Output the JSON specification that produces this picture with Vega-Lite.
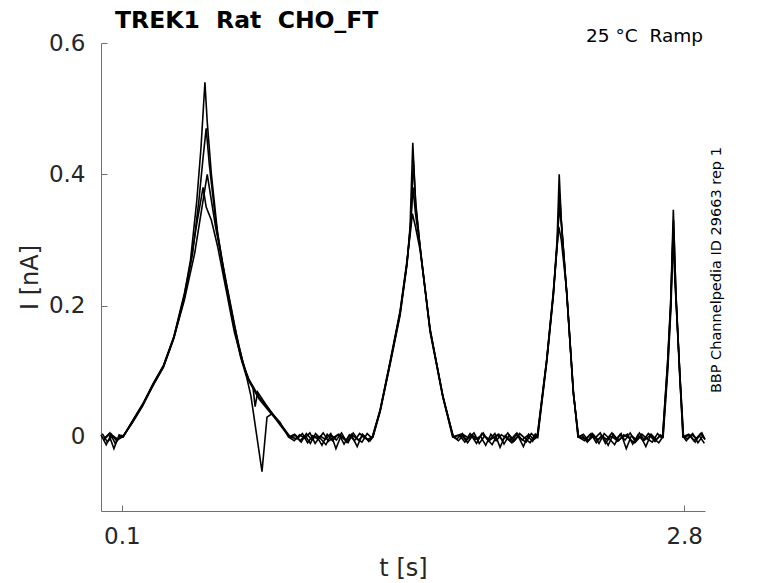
{
  "$schema": "https://vega.github.io/schema/vega-lite/v6.json",
  "width": 604,
  "height": 468,
  "autosize": "none",
  "padding": {"left": 101, "top": 43, "right": 73, "bottom": 72},
  "background": "white",
  "title": {
    "text": "TREK1 \u00a0Rat \u00a0CHO_FT",
    "anchor": "start",
    "frame": "group",
    "dx": 14,
    "dy": 22,
    "offset": 17,
    "font": "DejaVu Sans",
    "fontSize": 23.5,
    "fontWeight": "bold",
    "color": "black"
  },
  "config": {
    "view": {"stroke": null},
    "axis": {
      "grid": false,
      "domainColor": "#707070",
      "tickColor": "#707070",
      "tickSize": -6,
      "labelFont": "DejaVu Sans",
      "labelFontSize": 23,
      "labelColor": "#262626",
      "titleFont": "DejaVu Sans",
      "titleFontSize": 24,
      "titleFontWeight": "normal",
      "titleColor": "#262626"
    }
  },
  "layer": [
    {
      "data": {
        "values": [
          {"s": "A", "t": 0, "i": 0.003}, {"s": "A", "t": 0.025, "i": -0.012}, {"s": "A", "t": 0.05, "i": 0.004}, {"s": "A", "t": 0.075, "i": -0.006}, {"s": "A", "t": 0.1, "i": 0.002},
          {"s": "A", "t": 0.105, "i": 0.0}, {"s": "A", "t": 0.15, "i": 0.024}, {"s": "A", "t": 0.2, "i": 0.05}, {"s": "A", "t": 0.25, "i": 0.08}, {"s": "A", "t": 0.3, "i": 0.108},
          {"s": "A", "t": 0.35, "i": 0.152}, {"s": "A", "t": 0.4, "i": 0.215}, {"s": "A", "t": 0.43, "i": 0.27}, {"s": "A", "t": 0.46, "i": 0.36}, {"s": "A", "t": 0.48, "i": 0.44},
          {"s": "A", "t": 0.499, "i": 0.54}, {"s": "A", "t": 0.51, "i": 0.48}, {"s": "A", "t": 0.53, "i": 0.4}, {"s": "A", "t": 0.56, "i": 0.31}, {"s": "A", "t": 0.6, "i": 0.235},
          {"s": "A", "t": 0.64, "i": 0.17}, {"s": "A", "t": 0.68, "i": 0.115}, {"s": "A", "t": 0.71, "i": 0.085}, {"s": "A", "t": 0.76, "i": 0.057}, {"s": "A", "t": 0.81, "i": 0.038},
          {"s": "A", "t": 0.86, "i": 0.02}, {"s": "A", "t": 0.905, "i": 0.0},
          {"s": "A", "t": 0.93, "i": 0.004}, {"s": "A", "t": 0.955, "i": -0.006}, {"s": "A", "t": 0.98, "i": 0.002}, {"s": "A", "t": 1.005, "i": -0.01}, {"s": "A", "t": 1.03, "i": 0.005},
          {"s": "A", "t": 1.055, "i": -0.003}, {"s": "A", "t": 1.08, "i": -0.012}, {"s": "A", "t": 1.105, "i": 0.003}, {"s": "A", "t": 1.13, "i": -0.005}, {"s": "A", "t": 1.155, "i": 0.006},
          {"s": "A", "t": 1.18, "i": -0.008}, {"s": "A", "t": 1.205, "i": 0.001}, {"s": "A", "t": 1.23, "i": -0.015}, {"s": "A", "t": 1.255, "i": 0.004}, {"s": "A", "t": 1.28, "i": -0.004},
          {"s": "A", "t": 1.304, "i": 0.0}, {"s": "A", "t": 1.34, "i": 0.04}, {"s": "A", "t": 1.388, "i": 0.113}, {"s": "A", "t": 1.436, "i": 0.189}, {"s": "A", "t": 1.469, "i": 0.265},
          {"s": "A", "t": 1.484, "i": 0.32}, {"s": "A", "t": 1.497, "i": 0.448}, {"s": "A", "t": 1.51, "i": 0.36}, {"s": "A", "t": 1.532, "i": 0.289}, {"s": "A", "t": 1.58, "i": 0.163},
          {"s": "A", "t": 1.642, "i": 0.061}, {"s": "A", "t": 1.69, "i": 0.0},
          {"s": "A", "t": 1.71, "i": -0.003}, {"s": "A", "t": 1.735, "i": 0.005}, {"s": "A", "t": 1.76, "i": -0.009}, {"s": "A", "t": 1.785, "i": 0.002}, {"s": "A", "t": 1.81, "i": -0.004},
          {"s": "A", "t": 1.835, "i": 0.006}, {"s": "A", "t": 1.86, "i": -0.007}, {"s": "A", "t": 1.885, "i": -0.001}, {"s": "A", "t": 1.91, "i": 0.004}, {"s": "A", "t": 1.935, "i": -0.011},
          {"s": "A", "t": 1.96, "i": 0.003}, {"s": "A", "t": 1.985, "i": -0.006}, {"s": "A", "t": 2.01, "i": 0.005}, {"s": "A", "t": 2.035, "i": -0.002}, {"s": "A", "t": 2.06, "i": -0.009},
          {"s": "A", "t": 2.085, "i": 0.004},
          {"s": "A", "t": 2.095, "i": 0.0}, {"s": "A", "t": 2.14, "i": 0.117}, {"s": "A", "t": 2.172, "i": 0.219}, {"s": "A", "t": 2.19, "i": 0.3}, {"s": "A", "t": 2.2, "i": 0.4},
          {"s": "A", "t": 2.21, "i": 0.33}, {"s": "A", "t": 2.236, "i": 0.219}, {"s": "A", "t": 2.268, "i": 0.067}, {"s": "A", "t": 2.292, "i": 0.0},
          {"s": "A", "t": 2.31, "i": 0.002}, {"s": "A", "t": 2.335, "i": -0.008}, {"s": "A", "t": 2.36, "i": 0.005}, {"s": "A", "t": 2.385, "i": -0.004}, {"s": "A", "t": 2.41, "i": 0.001},
          {"s": "A", "t": 2.435, "i": -0.013}, {"s": "A", "t": 2.46, "i": 0.004}, {"s": "A", "t": 2.485, "i": -0.006}, {"s": "A", "t": 2.51, "i": 0.003}, {"s": "A", "t": 2.535, "i": -0.002},
          {"s": "A", "t": 2.56, "i": -0.009}, {"s": "A", "t": 2.585, "i": 0.006}, {"s": "A", "t": 2.61, "i": -0.005}, {"s": "A", "t": 2.635, "i": 0.002}, {"s": "A", "t": 2.66, "i": -0.007},
          {"s": "A", "t": 2.685, "i": 0.003},
          {"s": "A", "t": 2.697, "i": 0.0}, {"s": "A", "t": 2.72, "i": 0.11}, {"s": "A", "t": 2.735, "i": 0.2}, {"s": "A", "t": 2.748, "i": 0.346}, {"s": "A", "t": 2.76, "i": 0.22},
          {"s": "A", "t": 2.78, "i": 0.09}, {"s": "A", "t": 2.796, "i": 0.0},
          {"s": "A", "t": 2.81, "i": -0.006}, {"s": "A", "t": 2.835, "i": 0.003}, {"s": "A", "t": 2.86, "i": -0.002}, {"s": "A", "t": 2.885, "i": 0.006}, {"s": "A", "t": 2.9, "i": -0.004},

          {"s": "B", "t": 0.012, "i": -0.005}, {"s": "B", "t": 0.037, "i": 0.004}, {"s": "B", "t": 0.062, "i": -0.018}, {"s": "B", "t": 0.087, "i": 0.003},
          {"s": "B", "t": 0.107, "i": 0.0}, {"s": "B", "t": 0.15, "i": 0.022}, {"s": "B", "t": 0.2, "i": 0.048}, {"s": "B", "t": 0.25, "i": 0.078}, {"s": "B", "t": 0.3, "i": 0.106},
          {"s": "B", "t": 0.35, "i": 0.15}, {"s": "B", "t": 0.4, "i": 0.212}, {"s": "B", "t": 0.44, "i": 0.28}, {"s": "B", "t": 0.47, "i": 0.36}, {"s": "B", "t": 0.49, "i": 0.425},
          {"s": "B", "t": 0.505, "i": 0.47}, {"s": "B", "t": 0.52, "i": 0.415}, {"s": "B", "t": 0.55, "i": 0.33}, {"s": "B", "t": 0.59, "i": 0.25}, {"s": "B", "t": 0.63, "i": 0.18},
          {"s": "B", "t": 0.67, "i": 0.122}, {"s": "B", "t": 0.7, "i": 0.09}, {"s": "B", "t": 0.72, "i": 0.062}, {"s": "B", "t": 0.773, "i": -0.053}, {"s": "B", "t": 0.797, "i": 0.03},
          {"s": "B", "t": 0.82, "i": 0.035}, {"s": "B", "t": 0.86, "i": 0.018}, {"s": "B", "t": 0.903, "i": 0.0},
          {"s": "B", "t": 0.942, "i": -0.003}, {"s": "B", "t": 0.967, "i": 0.005}, {"s": "B", "t": 0.992, "i": -0.009}, {"s": "B", "t": 1.017, "i": 0.002}, {"s": "B", "t": 1.042, "i": -0.004},
          {"s": "B", "t": 1.067, "i": 0.006}, {"s": "B", "t": 1.092, "i": -0.007}, {"s": "B", "t": 1.117, "i": -0.001}, {"s": "B", "t": 1.142, "i": 0.004}, {"s": "B", "t": 1.167, "i": -0.011},
          {"s": "B", "t": 1.192, "i": 0.003}, {"s": "B", "t": 1.217, "i": -0.006}, {"s": "B", "t": 1.242, "i": 0.005}, {"s": "B", "t": 1.267, "i": -0.002}, {"s": "B", "t": 1.292, "i": -0.006},
          {"s": "B", "t": 1.306, "i": 0.0}, {"s": "B", "t": 1.34, "i": 0.038}, {"s": "B", "t": 1.388, "i": 0.11}, {"s": "B", "t": 1.436, "i": 0.185}, {"s": "B", "t": 1.469, "i": 0.262},
          {"s": "B", "t": 1.488, "i": 0.33}, {"s": "B", "t": 1.5, "i": 0.42}, {"s": "B", "t": 1.512, "i": 0.35}, {"s": "B", "t": 1.535, "i": 0.28}, {"s": "B", "t": 1.58, "i": 0.16},
          {"s": "B", "t": 1.64, "i": 0.062}, {"s": "B", "t": 1.688, "i": 0.0},
          {"s": "B", "t": 1.722, "i": 0.002}, {"s": "B", "t": 1.747, "i": -0.008}, {"s": "B", "t": 1.772, "i": 0.005}, {"s": "B", "t": 1.797, "i": -0.004}, {"s": "B", "t": 1.822, "i": 0.001},
          {"s": "B", "t": 1.847, "i": -0.013}, {"s": "B", "t": 1.872, "i": 0.004}, {"s": "B", "t": 1.897, "i": -0.006}, {"s": "B", "t": 1.922, "i": 0.003}, {"s": "B", "t": 1.947, "i": -0.002},
          {"s": "B", "t": 1.972, "i": -0.009}, {"s": "B", "t": 1.997, "i": 0.006}, {"s": "B", "t": 2.022, "i": -0.005}, {"s": "B", "t": 2.047, "i": 0.002}, {"s": "B", "t": 2.072, "i": -0.007},
          {"s": "B", "t": 2.09, "i": 0.003},
          {"s": "B", "t": 2.097, "i": 0.0}, {"s": "B", "t": 2.14, "i": 0.113}, {"s": "B", "t": 2.172, "i": 0.215}, {"s": "B", "t": 2.192, "i": 0.3}, {"s": "B", "t": 2.202, "i": 0.37},
          {"s": "B", "t": 2.212, "i": 0.32}, {"s": "B", "t": 2.238, "i": 0.212}, {"s": "B", "t": 2.268, "i": 0.07}, {"s": "B", "t": 2.29, "i": 0.0},
          {"s": "B", "t": 2.322, "i": -0.006}, {"s": "B", "t": 2.347, "i": 0.003}, {"s": "B", "t": 2.372, "i": -0.002}, {"s": "B", "t": 2.397, "i": 0.006}, {"s": "B", "t": 2.422, "i": -0.01},
          {"s": "B", "t": 2.447, "i": 0.001}, {"s": "B", "t": 2.472, "i": -0.004}, {"s": "B", "t": 2.497, "i": 0.005}, {"s": "B", "t": 2.522, "i": -0.018}, {"s": "B", "t": 2.547, "i": 0.002},
          {"s": "B", "t": 2.572, "i": -0.005}, {"s": "B", "t": 2.597, "i": 0.004}, {"s": "B", "t": 2.622, "i": -0.003}, {"s": "B", "t": 2.647, "i": -0.008}, {"s": "B", "t": 2.672, "i": 0.005},
          {"s": "B", "t": 2.69, "i": -0.001},
          {"s": "B", "t": 2.699, "i": 0.0}, {"s": "B", "t": 2.722, "i": 0.105}, {"s": "B", "t": 2.737, "i": 0.2}, {"s": "B", "t": 2.749, "i": 0.33}, {"s": "B", "t": 2.761, "i": 0.215},
          {"s": "B", "t": 2.78, "i": 0.088}, {"s": "B", "t": 2.794, "i": 0.0},
          {"s": "B", "t": 2.822, "i": 0.004}, {"s": "B", "t": 2.847, "i": -0.006}, {"s": "B", "t": 2.872, "i": 0.002}, {"s": "B", "t": 2.897, "i": -0.01},

          {"s": "C", "t": 0.006, "i": 0.005}, {"s": "C", "t": 0.031, "i": -0.008}, {"s": "C", "t": 0.056, "i": 0.002}, {"s": "C", "t": 0.081, "i": -0.004},
          {"s": "C", "t": 0.104, "i": 0.0}, {"s": "C", "t": 0.15, "i": 0.021}, {"s": "C", "t": 0.2, "i": 0.047}, {"s": "C", "t": 0.25, "i": 0.079}, {"s": "C", "t": 0.3, "i": 0.107},
          {"s": "C", "t": 0.35, "i": 0.151}, {"s": "C", "t": 0.4, "i": 0.208}, {"s": "C", "t": 0.45, "i": 0.28}, {"s": "C", "t": 0.48, "i": 0.34}, {"s": "C", "t": 0.51, "i": 0.4},
          {"s": "C", "t": 0.525, "i": 0.37}, {"s": "C", "t": 0.55, "i": 0.32}, {"s": "C", "t": 0.58, "i": 0.27}, {"s": "C", "t": 0.62, "i": 0.205}, {"s": "C", "t": 0.66, "i": 0.14},
          {"s": "C", "t": 0.7, "i": 0.092}, {"s": "C", "t": 0.73, "i": 0.075}, {"s": "C", "t": 0.74, "i": 0.046}, {"s": "C", "t": 0.752, "i": 0.068}, {"s": "C", "t": 0.79, "i": 0.05},
          {"s": "C", "t": 0.84, "i": 0.028}, {"s": "C", "t": 0.88, "i": 0.012}, {"s": "C", "t": 0.908, "i": 0.0},
          {"s": "C", "t": 0.936, "i": 0.002}, {"s": "C", "t": 0.961, "i": -0.008}, {"s": "C", "t": 0.986, "i": 0.005}, {"s": "C", "t": 1.011, "i": -0.004}, {"s": "C", "t": 1.036, "i": 0.001},
          {"s": "C", "t": 1.061, "i": -0.013}, {"s": "C", "t": 1.086, "i": 0.004}, {"s": "C", "t": 1.111, "i": -0.006}, {"s": "C", "t": 1.136, "i": 0.003}, {"s": "C", "t": 1.161, "i": -0.002},
          {"s": "C", "t": 1.186, "i": -0.009}, {"s": "C", "t": 1.211, "i": 0.006}, {"s": "C", "t": 1.236, "i": -0.005}, {"s": "C", "t": 1.261, "i": 0.002}, {"s": "C", "t": 1.286, "i": -0.007},
          {"s": "C", "t": 1.303, "i": 0.0}, {"s": "C", "t": 1.34, "i": 0.041}, {"s": "C", "t": 1.388, "i": 0.115}, {"s": "C", "t": 1.436, "i": 0.192}, {"s": "C", "t": 1.469, "i": 0.268},
          {"s": "C", "t": 1.485, "i": 0.31}, {"s": "C", "t": 1.495, "i": 0.34}, {"s": "C", "t": 1.51, "i": 0.32}, {"s": "C", "t": 1.532, "i": 0.285}, {"s": "C", "t": 1.58, "i": 0.165},
          {"s": "C", "t": 1.642, "i": 0.06}, {"s": "C", "t": 1.692, "i": 0.0},
          {"s": "C", "t": 1.716, "i": -0.006}, {"s": "C", "t": 1.741, "i": 0.003}, {"s": "C", "t": 1.766, "i": -0.002}, {"s": "C", "t": 1.791, "i": 0.006}, {"s": "C", "t": 1.816, "i": -0.01},
          {"s": "C", "t": 1.841, "i": 0.001}, {"s": "C", "t": 1.866, "i": -0.004}, {"s": "C", "t": 1.891, "i": 0.005}, {"s": "C", "t": 1.916, "i": -0.016}, {"s": "C", "t": 1.941, "i": 0.002},
          {"s": "C", "t": 1.966, "i": -0.005}, {"s": "C", "t": 1.991, "i": 0.004}, {"s": "C", "t": 2.016, "i": -0.003}, {"s": "C", "t": 2.041, "i": -0.008}, {"s": "C", "t": 2.066, "i": 0.005},
          {"s": "C", "t": 2.088, "i": -0.001},
          {"s": "C", "t": 2.094, "i": 0.0}, {"s": "C", "t": 2.14, "i": 0.118}, {"s": "C", "t": 2.172, "i": 0.222}, {"s": "C", "t": 2.19, "i": 0.29}, {"s": "C", "t": 2.198, "i": 0.32},
          {"s": "C", "t": 2.21, "i": 0.3}, {"s": "C", "t": 2.236, "i": 0.222}, {"s": "C", "t": 2.268, "i": 0.065}, {"s": "C", "t": 2.293, "i": 0.0},
          {"s": "C", "t": 2.316, "i": 0.004}, {"s": "C", "t": 2.341, "i": -0.006}, {"s": "C", "t": 2.366, "i": 0.002}, {"s": "C", "t": 2.391, "i": -0.01}, {"s": "C", "t": 2.416, "i": 0.005},
          {"s": "C", "t": 2.441, "i": -0.003}, {"s": "C", "t": 2.466, "i": -0.012}, {"s": "C", "t": 2.491, "i": 0.003}, {"s": "C", "t": 2.516, "i": -0.005}, {"s": "C", "t": 2.541, "i": 0.006},
          {"s": "C", "t": 2.566, "i": -0.008}, {"s": "C", "t": 2.591, "i": 0.001}, {"s": "C", "t": 2.616, "i": -0.015}, {"s": "C", "t": 2.641, "i": 0.004}, {"s": "C", "t": 2.666, "i": -0.004},
          {"s": "C", "t": 2.688, "i": 0.002},
          {"s": "C", "t": 2.696, "i": 0.0}, {"s": "C", "t": 2.72, "i": 0.112}, {"s": "C", "t": 2.735, "i": 0.205}, {"s": "C", "t": 2.746, "i": 0.3}, {"s": "C", "t": 2.758, "i": 0.225},
          {"s": "C", "t": 2.78, "i": 0.092}, {"s": "C", "t": 2.797, "i": 0.0},
          {"s": "C", "t": 2.816, "i": -0.003}, {"s": "C", "t": 2.841, "i": 0.005}, {"s": "C", "t": 2.866, "i": -0.009}, {"s": "C", "t": 2.891, "i": 0.002},

          {"s": "D", "t": 0.018, "i": -0.002}, {"s": "D", "t": 0.043, "i": 0.006}, {"s": "D", "t": 0.068, "i": -0.01}, {"s": "D", "t": 0.093, "i": 0.001},
          {"s": "D", "t": 0.106, "i": 0.0}, {"s": "D", "t": 0.15, "i": 0.023}, {"s": "D", "t": 0.2, "i": 0.049}, {"s": "D", "t": 0.25, "i": 0.081}, {"s": "D", "t": 0.3, "i": 0.109},
          {"s": "D", "t": 0.35, "i": 0.153}, {"s": "D", "t": 0.4, "i": 0.218}, {"s": "D", "t": 0.43, "i": 0.265}, {"s": "D", "t": 0.46, "i": 0.325}, {"s": "D", "t": 0.49, "i": 0.38},
          {"s": "D", "t": 0.505, "i": 0.35}, {"s": "D", "t": 0.53, "i": 0.33}, {"s": "D", "t": 0.56, "i": 0.29}, {"s": "D", "t": 0.6, "i": 0.225}, {"s": "D", "t": 0.64, "i": 0.16},
          {"s": "D", "t": 0.68, "i": 0.112}, {"s": "D", "t": 0.71, "i": 0.088}, {"s": "D", "t": 0.76, "i": 0.06}, {"s": "D", "t": 0.81, "i": 0.04}, {"s": "D", "t": 0.86, "i": 0.022},
          {"s": "D", "t": 0.9, "i": 0.0},
          {"s": "D", "t": 0.928, "i": -0.006}, {"s": "D", "t": 0.953, "i": 0.003}, {"s": "D", "t": 0.978, "i": -0.002}, {"s": "D", "t": 1.003, "i": 0.006}, {"s": "D", "t": 1.028, "i": -0.01},
          {"s": "D", "t": 1.053, "i": 0.001}, {"s": "D", "t": 1.078, "i": -0.004}, {"s": "D", "t": 1.103, "i": 0.005}, {"s": "D", "t": 1.128, "i": -0.018}, {"s": "D", "t": 1.153, "i": 0.002},
          {"s": "D", "t": 1.178, "i": -0.005}, {"s": "D", "t": 1.203, "i": 0.004}, {"s": "D", "t": 1.228, "i": -0.003}, {"s": "D", "t": 1.253, "i": -0.008}, {"s": "D", "t": 1.278, "i": 0.005},
          {"s": "D", "t": 1.298, "i": -0.001},
          {"s": "D", "t": 1.305, "i": 0.0}, {"s": "D", "t": 1.34, "i": 0.039}, {"s": "D", "t": 1.388, "i": 0.112}, {"s": "D", "t": 1.436, "i": 0.188}, {"s": "D", "t": 1.469, "i": 0.264},
          {"s": "D", "t": 1.486, "i": 0.32}, {"s": "D", "t": 1.498, "i": 0.38}, {"s": "D", "t": 1.51, "i": 0.34}, {"s": "D", "t": 1.533, "i": 0.287}, {"s": "D", "t": 1.58, "i": 0.162},
          {"s": "D", "t": 1.642, "i": 0.062}, {"s": "D", "t": 1.691, "i": 0.0},
          {"s": "D", "t": 1.728, "i": 0.004}, {"s": "D", "t": 1.753, "i": -0.006}, {"s": "D", "t": 1.778, "i": 0.002}, {"s": "D", "t": 1.803, "i": -0.01}, {"s": "D", "t": 1.828, "i": 0.005},
          {"s": "D", "t": 1.853, "i": -0.003}, {"s": "D", "t": 1.878, "i": -0.012}, {"s": "D", "t": 1.903, "i": 0.003}, {"s": "D", "t": 1.928, "i": -0.005}, {"s": "D", "t": 1.953, "i": 0.006},
          {"s": "D", "t": 1.978, "i": -0.008}, {"s": "D", "t": 2.003, "i": 0.001}, {"s": "D", "t": 2.028, "i": -0.015}, {"s": "D", "t": 2.053, "i": 0.004}, {"s": "D", "t": 2.078, "i": -0.004},
          {"s": "D", "t": 2.096, "i": 0.0}, {"s": "D", "t": 2.14, "i": 0.116}, {"s": "D", "t": 2.172, "i": 0.218}, {"s": "D", "t": 2.19, "i": 0.295}, {"s": "D", "t": 2.2, "i": 0.35},
          {"s": "D", "t": 2.21, "i": 0.325}, {"s": "D", "t": 2.236, "i": 0.218}, {"s": "D", "t": 2.268, "i": 0.068}, {"s": "D", "t": 2.291, "i": 0.0},
          {"s": "D", "t": 2.328, "i": -0.003}, {"s": "D", "t": 2.353, "i": 0.005}, {"s": "D", "t": 2.378, "i": -0.009}, {"s": "D", "t": 2.403, "i": 0.002}, {"s": "D", "t": 2.428, "i": -0.004},
          {"s": "D", "t": 2.453, "i": 0.006}, {"s": "D", "t": 2.478, "i": -0.007}, {"s": "D", "t": 2.503, "i": -0.001}, {"s": "D", "t": 2.528, "i": 0.004}, {"s": "D", "t": 2.553, "i": -0.011},
          {"s": "D", "t": 2.578, "i": 0.003}, {"s": "D", "t": 2.603, "i": -0.006}, {"s": "D", "t": 2.628, "i": 0.005}, {"s": "D", "t": 2.653, "i": -0.002}, {"s": "D", "t": 2.678, "i": -0.009},
          {"s": "D", "t": 2.698, "i": 0.0}, {"s": "D", "t": 2.721, "i": 0.108}, {"s": "D", "t": 2.736, "i": 0.202}, {"s": "D", "t": 2.747, "i": 0.32}, {"s": "D", "t": 2.759, "i": 0.22},
          {"s": "D", "t": 2.779, "i": 0.09}, {"s": "D", "t": 2.795, "i": 0.0},
          {"s": "D", "t": 2.828, "i": 0.002}, {"s": "D", "t": 2.853, "i": -0.008}, {"s": "D", "t": 2.878, "i": 0.005}, {"s": "D", "t": 2.9, "i": -0.004}
        ]
      },
      "mark": {"type": "line", "color": "black", "strokeWidth": 1.6},
      "encoding": {
        "x": {
          "field": "t",
          "type": "quantitative",
          "scale": {"domain": [0, 2.9], "nice": false, "zero": false},
          "axis": {
            "values": [0.1, 2.8],
            "format": ".1f",
            "labelPadding": 20,
            "title": "t [s]",
            "titlePadding": 8
          }
        },
        "y": {
          "field": "i",
          "type": "quantitative",
          "scale": {"domain": [-0.113, 0.6], "nice": false, "zero": false},
          "axis": {
            "values": [0, 0.2, 0.4, 0.6],
            "format": "~g",
            "labelPadding": 22,
            "title": "I [nA]",
            "titlePadding": 6
          }
        },
        "detail": {"field": "s", "type": "nominal"}
      }
    },
    {
      "data": {"values": [{"t": 2.9, "i": 0.6, "label": "25 °C \u00a0Ramp"}]},
      "mark": {"type": "text", "align": "right", "baseline": "alphabetic", "dx": -2, "dy": -1, "font": "DejaVu Sans", "fontSize": 18.5, "color": "black"},
      "encoding": {
        "x": {"field": "t", "type": "quantitative"},
        "y": {"field": "i", "type": "quantitative"},
        "text": {"field": "label"}
      }
    },
    {
      "data": {"values": [{"t": 2.958, "i": 0.254, "label": "BBP Channelpedia ID 29663 rep 1"}]},
      "mark": {"type": "text", "align": "center", "baseline": "middle", "angle": 270, "font": "DejaVu Sans", "fontSize": 14.5, "color": "black"},
      "encoding": {
        "x": {"field": "t", "type": "quantitative"},
        "y": {"field": "i", "type": "quantitative"},
        "text": {"field": "label"}
      }
    }
  ]
}
